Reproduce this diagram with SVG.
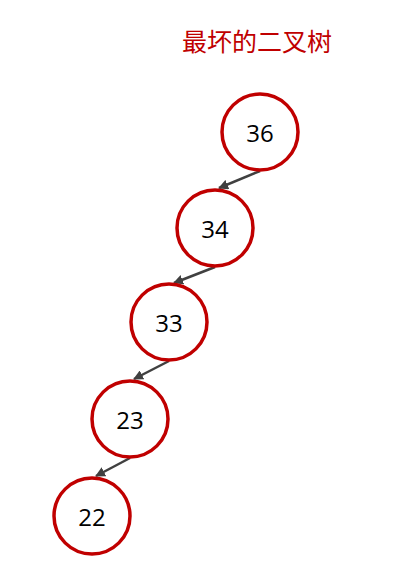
<svg xmlns="http://www.w3.org/2000/svg" width="413" height="564" viewBox="0 0 413 564">
<defs>
<style>
.node circle{fill:#fff;stroke:#C00000;stroke-width:3.5}
.node text{font-family:"Open Sans","Noto Sans",sans-serif;font-size:24px;fill:#000;text-anchor:middle;dominant-baseline:central}
.edge{stroke:#404040;stroke-width:2.5;fill:none;marker-end:url(#arr)}
.title{font-family:"Noto Sans CJK SC",sans-serif;font-size:25px;fill:#C00000}
</style>
<marker id="arr" viewBox="0 0 10 10" refX="9" refY="5" markerWidth="4" markerHeight="4" orient="auto" markerUnits="strokeWidth">
<path d="M0,0 L10,5 L0,10 z" fill="#404040"/>
</marker>
</defs>
<rect width="413" height="564" fill="#fff"/>
<text class="title" x="182" y="51">最坏的二叉树</text>
<g id="connectors">
<line class="edge" x1="260" y1="171" x2="219" y2="188"/>
<line class="edge" x1="215" y1="267" x2="174" y2="283"/>
<line class="edge" x1="169" y1="361" x2="134" y2="379"/>
<line class="edge" x1="130" y1="458" x2="96" y2="476"/>
</g>
<g id="n36" class="node"><circle cx="260" cy="132" r="38"/><text x="260" y="132">36</text></g>
<g id="n34" class="node"><circle cx="215" cy="228" r="38"/><text x="215" y="228">34</text></g>
<g id="n33" class="node"><circle cx="169" cy="322" r="38"/><text x="169" y="322">33</text></g>
<g id="n23" class="node"><circle cx="130" cy="419" r="38"/><text x="130" y="419">23</text></g>
<g id="n22" class="node"><circle cx="92" cy="516" r="38"/><text x="92" y="516">22</text></g>
</svg>
